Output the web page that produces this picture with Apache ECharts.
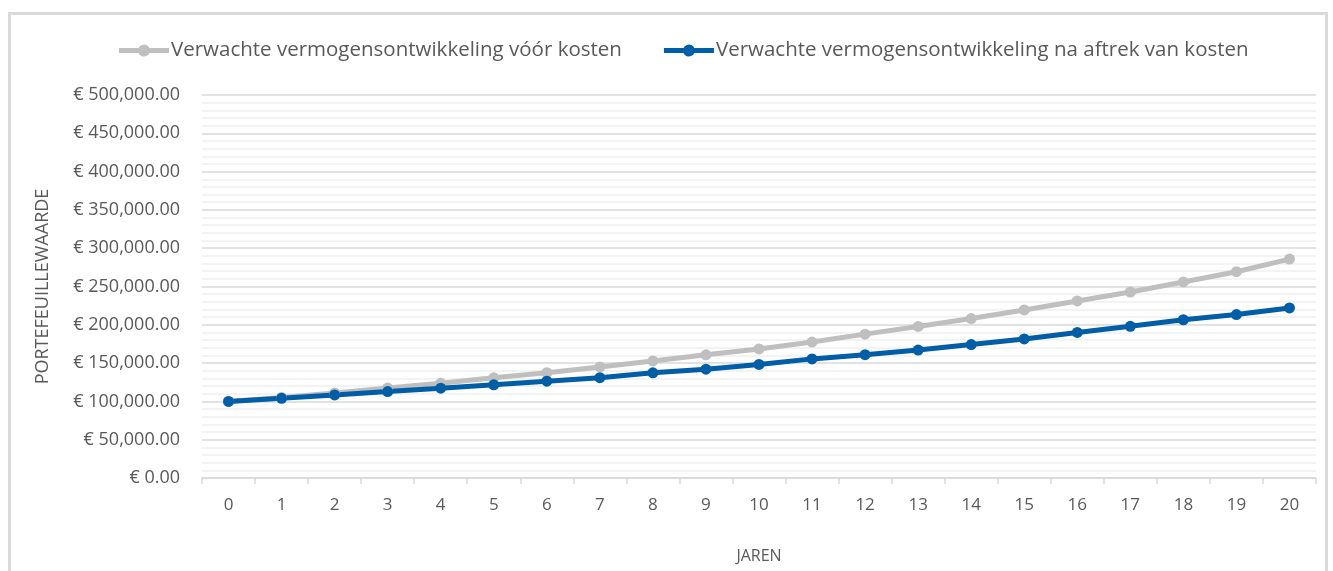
<!DOCTYPE html>
<html>
<head>
<meta charset="utf-8">
<script src="https://cdn.jsdelivr.net/npm/echarts@6/dist/echarts.min.js"></script>
<style>
  html, body { margin: 0; padding: 0; background: #fff; overflow: hidden; }
  #frame {
    position: absolute; left: 8px; top: 12px; width: 1320px; height: 600px;
    border: 3px solid #d9d9d9; box-sizing: border-box;
  }
  #chart { position: absolute; left: 0; top: 0; width: 1333px; height: 571px; }
</style>
</head>
<body>
<div id="frame"></div>
<div id="chart"></div>
<script>
  // jaren 0..20
  var jaren = ['0','1','2','3','4','5','6','7','8','9','10','11','12','13','14','15','16','17','18','19','20']
  // portefeuillewaarde
  var voorKosten = [100000, 105200, 111000, 117500, 123800, 130800, 137500, 145000, 152800, 160800,
    168500, 177500, 187800, 197800, 208200, 219400, 231100, 242800, 255900, 269300, 285800]
  var naKosten = [100000, 104000, 108400, 112800, 117200, 121600, 126400, 131000, 137300, 142000,
    148200, 155500, 161000, 167000, 174200, 181600, 190000, 198000, 206600, 213400, 222000]
  var yMin = 0, yMax = 500000, yStap = 50000

  var grijs = '#bfbfbf'
  var blauw = '#005ea6'
  var tekst = '#595959'
  var font = 'Open Sans'

  function euro(v) {
    return '€ ' + v.toLocaleString('en-US', {minimumFractionDigits: 2, maximumFractionDigits: 2})
  }

  // lijn met bolletje, zoals in Excel
  var legendIcon = 'path://M0,3.5 L19.55,3.5 A6,6 0 0 1 30.45,3.5 L50,3.5 L50,8.5 L30.45,8.5 A6,6 0 0 1 19.55,8.5 L0,8.5 Z'

  var chart = echarts.init(document.getElementById('chart'))
  var option = {
    animation: false,
    textStyle: {fontFamily: font, color: tekst},
    legend: {
      top: 35,
      left: 114,
      itemWidth: 50,
      itemHeight: 12,
      itemGap: 42,
      icon: legendIcon,
      textStyle: {fontSize: 20.5, color: tekst, fontFamily: font, padding: [0, 0, 0, -3]},
      data: ['Verwachte vermogensontwikkeling vóór kosten', 'Verwachte vermogensontwikkeling na aftrek van kosten']
    },
    grid: {left: 202, right: 17, top: 95, bottom: 93, containLabel: false},
    xAxis: {
      type: 'category',
      data: jaren,
      boundaryGap: true,
      name: 'JAREN',
      nameLocation: 'middle',
      nameGap: 70,
      nameTextStyle: {fontSize: 16, color: tekst},
      axisLine: {lineStyle: {color: '#d9d9d9', width: 1.5}},
      axisTick: {show: true, length: 6, lineStyle: {color: '#d9d9d9', width: 1.5}},
      axisLabel: {fontSize: 17, color: tekst, margin: 19}
    },
    yAxis: {
      type: 'value',
      min: yMin,
      max: yMax,
      interval: yStap,
      name: 'PORTEFEUILLEWAARDE',
      nameLocation: 'middle',
      nameGap: 150,
      nameTextStyle: {fontSize: 18, color: tekst},
      axisLine: {show: false},
      axisTick: {show: false},
      axisLabel: {fontSize: 18, color: tekst, margin: 22, formatter: euro},
      splitLine: {lineStyle: {color: '#d9d9d9', width: 1.5}},
      minorTick: {show: false, splitNumber: 5},
      minorSplitLine: {show: true, lineStyle: {color: '#efefef', width: 1.5}}
    },
    series: [
      {
        name: 'Verwachte vermogensontwikkeling vóór kosten',
        type: 'line',
        data: voorKosten,
        color: grijs,
        symbol: 'circle',
        symbolSize: 11,
        lineStyle: {width: 5, color: grijs},
        itemStyle: {color: grijs}
      },
      {
        name: 'Verwachte vermogensontwikkeling na aftrek van kosten',
        type: 'line',
        data: naKosten,
        color: blauw,
        symbol: 'circle',
        symbolSize: 11,
        lineStyle: {width: 5, color: blauw},
        itemStyle: {color: blauw}
      }
    ]
  }
  chart.setOption(option)
</script>
</body>
</html>
